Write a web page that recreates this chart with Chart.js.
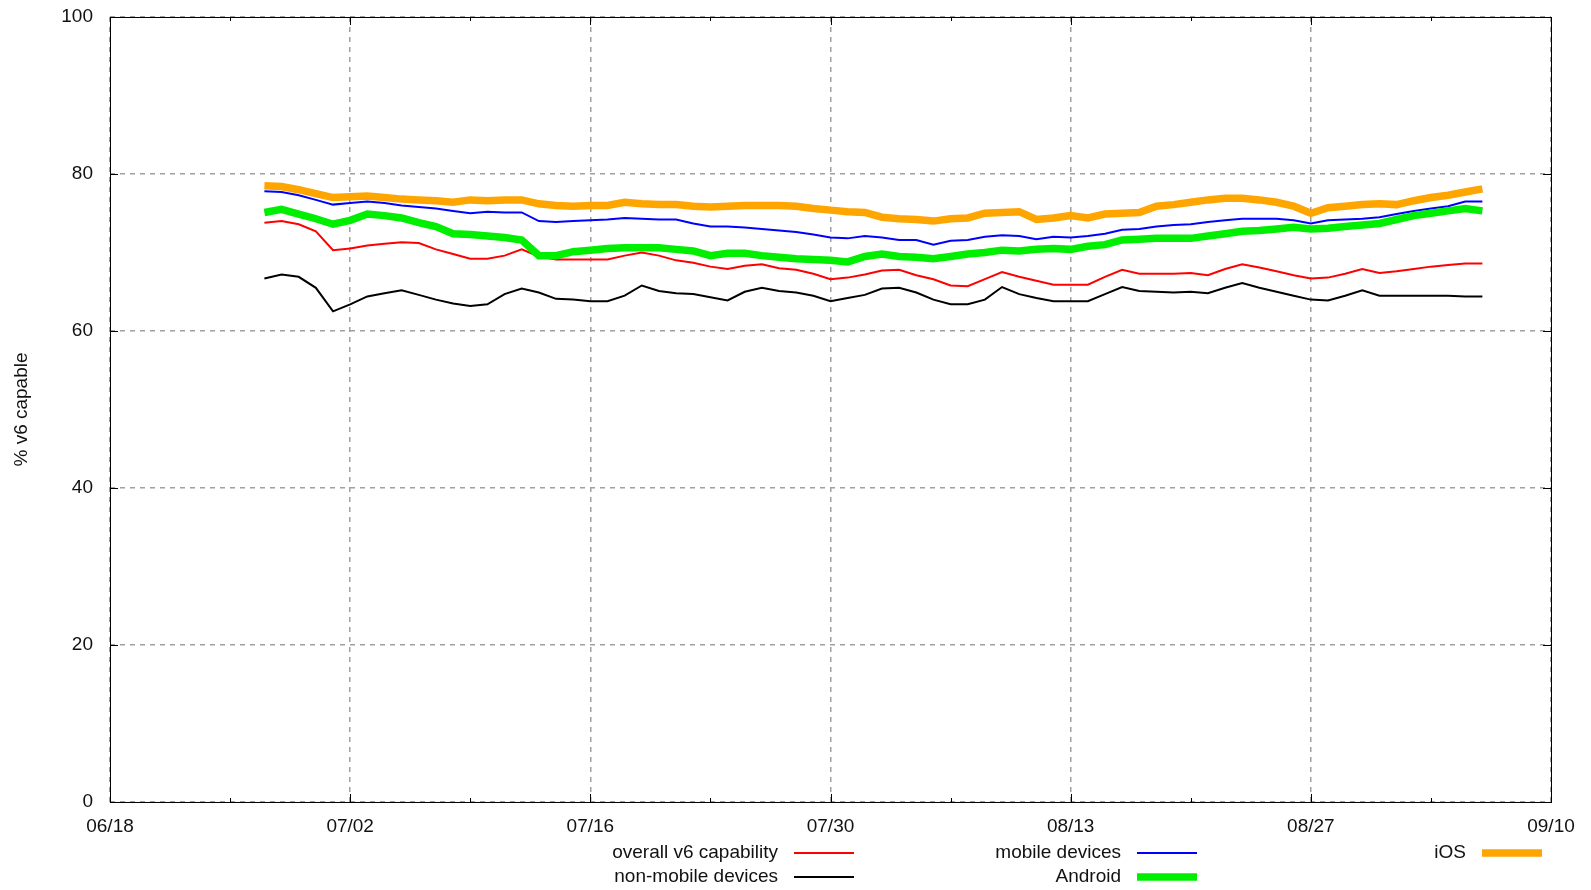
<!DOCTYPE html>
<html>
<head>
<meta charset="utf-8">
<script src="https://cdn.jsdelivr.net/npm/chart.js@4"></script>
<style>
body { margin: 0; background: #fff; }
#grafica { display: block; }
</style>
</head>
<body>
<canvas id="grafica" width="1591" height="890"></canvas>
<script>
// eje x en dias desde el 18/06
const etiquetasX = ["06/18", "07/02", "07/16", "07/30", "08/13", "08/27", "09/10"];
const ticksY = [0, 20, 40, 60, 80, 100];
const primerDia = [6, 27];
const ultimoDia = [9, 6];

const nombres = ["overall v6 capability", "non-mobile devices", "mobile devices", "Android", "iOS"];
const colores = ["#ff0000", "#000000", "#0000ff", "#00ee00", "#ffa500"];
const grosores = [2, 2, 2, 7.5, 7.5];

const general = [
    73.8, 74.0, 73.6, 72.7, 70.3, 70.5, 70.9, 71.1, 71.3, 71.2,
    70.4, 69.8, 69.2, 69.2, 69.6, 70.4, 69.5, 69.1, 69.1, 69.1,
    69.1, 69.6, 70.0, 69.6, 69.0, 68.7, 68.2, 67.9, 68.3, 68.5,
    68.0, 67.8, 67.3, 66.6, 66.8, 67.2, 67.7, 67.8, 67.1, 66.6,
    65.8, 65.7, 66.6, 67.5, 66.9, 66.4, 65.9, 65.9, 65.9, 66.9,
    67.8, 67.3, 67.3, 67.3, 67.4, 67.1, 67.9, 68.5, 68.1, 67.6,
    67.1, 66.7, 66.8, 67.3, 67.9, 67.4, 67.6, 67.9, 68.2, 68.4,
    68.6, 68.6
];
const noMovil = [
    66.7, 67.2, 66.9, 65.5, 62.5, 63.4, 64.4, 64.8, 65.2, 64.6,
    64.0, 63.5, 63.2, 63.4, 64.7, 65.4, 64.9, 64.1, 64.0, 63.8,
    63.8, 64.5, 65.8, 65.1, 64.8, 64.7, 64.3, 63.9, 65.0, 65.5,
    65.1, 64.9, 64.5, 63.8, 64.2, 64.6, 65.4, 65.5, 64.9, 64.0,
    63.4, 63.4, 64.0, 65.6, 64.7, 64.2, 63.8, 63.8, 63.8, 64.7,
    65.6, 65.1, 65.0, 64.9, 65.0, 64.8, 65.5, 66.1, 65.5, 65.0,
    64.5, 64.0, 63.9, 64.5, 65.2, 64.5, 64.5, 64.5, 64.5, 64.5,
    64.4, 64.4
];
const movil = [
    77.8, 77.7, 77.3, 76.7, 76.1, 76.3, 76.5, 76.3, 76.0, 75.8,
    75.6, 75.3, 75.0, 75.2, 75.1, 75.1, 74.0, 73.9, 74.0, 74.1,
    74.2, 74.4, 74.3, 74.2, 74.2, 73.7, 73.3, 73.3, 73.2, 73.0,
    72.8, 72.6, 72.3, 71.9, 71.8, 72.1, 71.9, 71.6, 71.6, 71.0,
    71.5, 71.6, 72.0, 72.2, 72.1, 71.7, 72.0, 71.9, 72.1, 72.4,
    72.9, 73.0, 73.3, 73.5, 73.6, 73.9, 74.1, 74.3, 74.3, 74.3,
    74.1, 73.7, 74.1, 74.2, 74.3, 74.5, 74.9, 75.3, 75.6, 75.9,
    76.5, 76.5
];
const android = [
    75.1, 75.5, 74.9, 74.3, 73.6, 74.1, 74.9, 74.7, 74.4, 73.8,
    73.3, 72.4, 72.3, 72.1, 71.9, 71.6, 69.6, 69.6, 70.1, 70.3,
    70.5, 70.6, 70.6, 70.6, 70.4, 70.2, 69.6, 69.9, 69.9, 69.6,
    69.4, 69.2, 69.1, 69.0, 68.8, 69.5, 69.8, 69.5, 69.4, 69.2,
    69.5, 69.8, 70.0, 70.3, 70.2, 70.4, 70.5, 70.4, 70.8, 71.0,
    71.6, 71.7, 71.8, 71.8, 71.8, 72.1, 72.4, 72.7, 72.8, 73.0,
    73.2, 73.0, 73.1, 73.3, 73.5, 73.7, 74.2, 74.7, 75.0, 75.3,
    75.6, 75.3
];
const ios = [
    78.5, 78.4, 78.0, 77.5, 77.0, 77.1, 77.2, 77.0, 76.8, 76.7,
    76.6, 76.4, 76.7, 76.6, 76.7, 76.7, 76.2, 76.0, 75.9, 76.0,
    76.0, 76.4, 76.2, 76.1, 76.1, 75.9, 75.8, 75.9, 76.0, 76.0,
    76.0, 75.9, 75.6, 75.4, 75.2, 75.1, 74.5, 74.3, 74.2, 74.0,
    74.3, 74.4, 75.0, 75.1, 75.2, 74.2, 74.4, 74.7, 74.4, 74.9,
    75.0, 75.1, 75.9, 76.1, 76.4, 76.7, 76.9, 76.9, 76.7, 76.4,
    75.9, 75.0, 75.7, 75.9, 76.1, 76.2, 76.1, 76.6, 77.0, 77.3,
    77.7, 78.1
];
const series = [general, noMovil, movil, android, ios];

// dias del eje (desde 06/18)
const origen = new Date(2018, 5, 18);
const dias = [];
for (let d = new Date(2018, primerDia[0] - 1, primerDia[1]); d <= new Date(2018, ultimoDia[0] - 1, ultimoDia[1]); d.setDate(d.getDate() + 1)) {
    dias.push(Math.round((d - origen) / 86400000));
}

const fuente = { family: "Liberation Sans", size: 19 };

const marco = {
    id: "marco",
    afterDatasetsDraw(chart) {
        const { ctx, chartArea: a, scales } = chart;
        ctx.save();
        ctx.strokeStyle = "#000";
        ctx.lineWidth = 1;
        ctx.strokeRect(a.left + 0.5, a.top + 0.5, a.right - a.left, a.bottom - a.top);
        ctx.beginPath();
        for (let v = 0; v <= 84; v += 7) {
            const px = Math.round(scales.x.getPixelForValue(v)) + 0.5;
            const largo = v % 14 === 0 ? 8 : 4;
            ctx.moveTo(px, a.bottom); ctx.lineTo(px, a.bottom - largo);
            ctx.moveTo(px, a.top); ctx.lineTo(px, a.top + largo);
        }
        ticksY.forEach(v => {
            const py = Math.round(scales.y.getPixelForValue(v)) + 0.5;
            ctx.moveTo(a.left, py); ctx.lineTo(a.left + 8, py);
            ctx.moveTo(a.right, py); ctx.lineTo(a.right - 8, py);
        });
        ctx.stroke();
        ctx.restore();
    }
};

// leyenda en dos filas, como la original
const leyenda = {
    id: "leyenda",
    afterDraw(chart) {
        const ctx = chart.ctx;
        const columnas = [778, 1121, 1466];
        const filas = [853, 877];
        ctx.save();
        ctx.font = fuente.size + "px " + fuente.family;
        ctx.textAlign = "right";
        ctx.textBaseline = "middle";
        chart.data.datasets.forEach((ds, i) => {
            const x = columnas[Math.floor(i / 2)];
            const y = filas[i % 2];
            ctx.fillStyle = "#111";
            ctx.fillText(ds.label, x, y);
            ctx.strokeStyle = ds.borderColor;
            ctx.lineWidth = ds.borderWidth;
            ctx.beginPath();
            ctx.moveTo(x + 16, y);
            ctx.lineTo(x + 76, y);
            ctx.stroke();
        });
        ctx.restore();
    }
};

const datasets = series.map((s, i) => ({
    label: nombres[i],
    data: s.map((v, j) => ({ x: dias[j], y: v })),
    borderColor: colores[i],
    backgroundColor: colores[i],
    borderWidth: grosores[i],
    pointRadius: 0,
    tension: 0,
    fill: false,
    order: series.length - i
}));

new Chart(document.getElementById("grafica"), {
    type: "line",
    data: { datasets: datasets },
    options: {
        responsive: false,
        animation: false,
        layout: { padding: { left: 0, top: 17, right: 40, bottom: 0 } },
        plugins: {
            legend: { display: false },
            tooltip: { enabled: false }
        },
        scales: {
            x: {
                type: "linear",
                min: 0,
                max: 84,
                afterFit: axis => {
                    axis.height = 88;
                    axis.paddingLeft = 0;
                    axis.paddingRight = 0;
                },
                afterBuildTicks: axis => {
                    axis.ticks = [];
                    for (let v = 0; v <= 84; v += 7) axis.ticks.push({ value: v });
                },
                ticks: {
                    autoSkip: false,
                    maxRotation: 0,
                    padding: 13,
                    color: "#111",
                    font: fuente,
                    callback: v => v % 14 === 0 ? etiquetasX[v / 14] : ""
                },
                grid: {
                    drawTicks: false,
                    lineWidth: 1.5,
                    color: c => c.tick && c.tick.value % 14 === 0 ? "#a0a0a0" : "rgba(0,0,0,0)"
                },
                border: { display: false, dash: [5, 5] }
            },
            y: {
                min: 0,
                max: 100,
                afterFit: axis => {
                    axis.width = 110;
                    axis.paddingTop = 0;
                    axis.paddingBottom = 0;
                },
                afterBuildTicks: axis => {
                    axis.ticks = ticksY.map(v => ({ value: v }));
                },
                ticks: { padding: 17, color: "#111", font: fuente },
                grid: { drawTicks: false, lineWidth: 1.5, color: "#a0a0a0" },
                border: { display: false, dash: [5, 5] },
                title: {
                    display: true,
                    text: "% v6 capable",
                    color: "#111",
                    font: fuente,
                    padding: { top: 10, bottom: 0 }
                }
            }
        }
    },
    plugins: [marco, leyenda]
});
</script>
</body>
</html>
